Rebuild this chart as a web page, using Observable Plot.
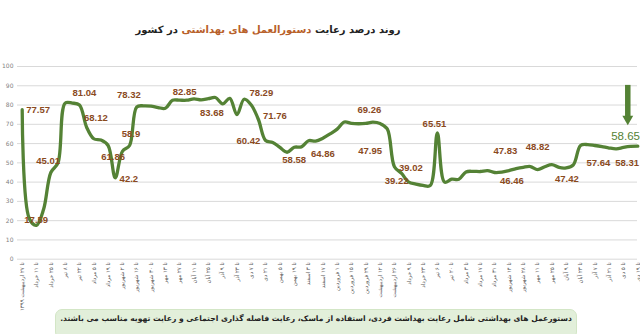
<!DOCTYPE html>
<html><head><meta charset="utf-8">
<script src="https://cdn.jsdelivr.net/npm/d3@7"></script>
<script src="https://cdn.jsdelivr.net/npm/@observablehq/plot@0.6"></script>
<style>
body{margin:0;background:#fff;}
#wrap{position:relative;width:640px;height:334px;overflow:hidden;background:#fff;}
#title{position:absolute;top:24px;left:0;width:536px;text-align:center;font-family:"DejaVu Sans";font-weight:bold;font-size:10px;color:#222;white-space:nowrap;}
#title .hl{color:#b8602a;}
#cap{position:absolute;left:55px;top:309px;width:522px;height:30px;background:#e2efda;border:1px solid #d3e6c6;border-radius:7px;box-sizing:border-box;text-align:center;font-family:"DejaVu Sans";font-size:7.6px;font-weight:bold;color:#222;padding-top:4px;white-space:nowrap;}
svg{position:absolute;left:0;top:0;}
</style></head>
<body><div id="wrap">
<div id="title" dir="rtl">روند درصد رعایت <span class="hl">دستورالعمل های بهداشتی</span> در کشور</div>
<div id="cap" dir="rtl">دستورعمل های بهداشتی شامل رعایت بهداشت فردی، استفاده از ماسک، رعایت فاصله گذاری اجتماعی و رعایت تهویه مناسب می باشند.</div>
</div>
<script>
const dates = [
"تا ۲۷ اردیبهشت ۱۳۹۹","تا ۱۱ خرداد","تا ۲۵ خرداد","تا ۸ تیر","تا ۲۲ تیر","تا ۵ مرداد","تا ۱۹ مرداد","تا ۲ شهریور","تا ۱۶ شهریور","تا ۳۰ شهریور","تا ۱۳ مهر","تا ۲۷ مهر","تا ۱۱ آبان","تا ۲۵ آبان",
"تا ۹ آذر","تا ۲۳ آذر","تا ۷ دی","تا ۲۱ دی","تا ۵ بهمن","تا ۱۹ بهمن","تا ۳ اسفند","تا ۱۷ اسفند","تا ۱ فروردین","تا ۱۵ فروردین","تا ۲۹ فروردین","تا ۱۲ اردیبهشت","تا ۲۶ اردیبهشت","تا ۹ خرداد","تا ۲۳ خرداد",
"تا ۶ تیر","تا ۲۰ تیر","تا ۳ مرداد","تا ۱۷ مرداد","تا ۳۱ مرداد","تا ۱۴ شهریور","تا ۲۸ شهریور","تا ۱۱ مهر","تا ۲۵ مهر","تا ۹ آبان","تا ۲۳ آبان","تا ۷ آذر","تا ۲۱ آذر","تا ۵ دی","تا ۱۹ دی"
];
const values = [
77.57,21,17.59,26,45.01,50,81,81,80,68.5,
62.5,61.8,59,42.2,56,59,79,79.6,79.4,78.7,
78.3,82.5,82.5,82.5,83.2,82.7,83.3,83.9,80.6,83.5,
75,83,80,72.5,61.6,60.6,58,55.5,58.1,58.3,
61.5,61.3,62.8,65,67.5,71.2,70.5,70.3,70.5,71.1,
70.4,67.6,48,44.5,40,39,38.3,38.2,65.5,40,
41.5,41.5,45.3,45.6,45.5,46,45,45.2,46,47,
47.7,48.1,46.5,48,49.1,47.6,47.4,49,59,59.5,
59,58.4,57.7,57.3,58,58.5,58.65
];
const yTicks = [0,10,20,30,40,50,60,70,80,90,100];
// value labels and where they sit on the chart (week index, value-axis level)
const labelText = ["77.57","17.59","45.01","81.04","68.12","61.86","42.2","58.9","78.32","82.85","83.68","78.29","71.76","60.42","58.58","64.86","69.26","47.95","39.02","39.22","65.51","47.83","48.82","46.46","47.42","57.64","58.31"];
const labelWeek = [2.23,1.96,3.63,8.7,10.3,12.7,14.9,15.2,14.9,22.7,26.5,33.4,35.3,31.6,38.0,42.0,48.5,48.6,54.3,52.3,57.6,67.5,72.0,68.4,76.1,80.5,84.5];
const labelLevel = [77.5,20.6,50.9,86.2,73.2,53.3,41.9,65.1,85.1,87.0,76,86.4,74.1,61.6,51.6,54.7,77.2,56,47.2,40.5,70.3,56.4,58.1,40.5,41.4,50,50];
const lastLabel = "58.65";

const pts = values.map((v,i)=>({k:i,v}));
const labs = labelText.map((t,i)=>({t,k:labelWeek[i],v:labelLevel[i]}));
const green = "#548235";

const chart = Plot.plot({
  width:640, height:334,
  marginTop:66, marginBottom:75.3, marginLeft:17, marginRight:3,
  style:{fontFamily:"DejaVu Sans", background:"transparent"},
  x:{domain:[0,86], range:[21.7,637.3]},
  y:{domain:[0,100], range:[258.7,66]},
  marks:[
    Plot.gridY(yTicks,{stroke:"#d9d9d9", strokeOpacity:1, strokeWidth:1}),
    Plot.axisY(yTicks,{tickSize:0, tickPadding:4, fontSize:6, fill:"#7f7f7f", label:null}),
    Plot.axisX(d3.range(0,87,2),{tickFormat:k=>dates[k/2], tickRotate:-90, tickSize:0, tickPadding:3, fontSize:5.5, fill:"#595959", label:null}),
    Plot.line(pts,{x:"k", y:"v", curve:"catmull-rom", stroke:green, strokeWidth:3.3, strokeLinejoin:"round", strokeLinecap:"round"}),
    Plot.text(labs,{x:"k", y:"v", text:"t", fill:"#8a4a1e", fontWeight:"bold", fontSize:9.5, fontFamily:"Liberation Sans"}),
    Plot.text([{k:86.3, v:63.7}],{x:"k", y:"v", text:()=>lastLabel, textAnchor:"end", fill:green, fontSize:11.5, fontFamily:"Liberation Sans"}),
    Plot.ruleX([{k:84.6}],{x:"k", y1:90.2, y2:74, stroke:green, strokeWidth:5.5}),
    Plot.dot([{k:84.6, v:72.8}],{x:"k", y:"v", symbol:"triangle2", r:5.2, fill:green, stroke:"none", rotate:180})
  ]
});
document.getElementById("wrap").appendChild(chart);
</script>
</body></html>
